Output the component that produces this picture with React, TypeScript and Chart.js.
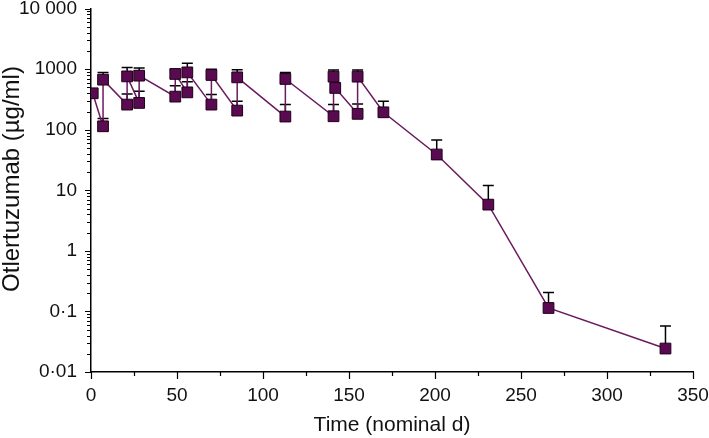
import React, { useEffect, useRef } from 'react';
import { Chart, registerables } from 'chart.js';

Chart.register(...registerables);

// ---- data ----
const days = [1, 7, 7, 21, 21, 28, 28, 49, 49, 56, 56, 70, 70, 85, 85, 113, 113, 141, 141, 142, 155, 155, 170, 201, 231, 266, 334];
const concentration = [400, 114, 671, 260, 760, 277, 781, 352, 834, 414, 885, 260, 802, 207, 733, 165, 689, 167, 752, 490, 183, 752, 194, 39, 5.8, 0.114, 0.0244];
const upperError: (number | null)[] = [null, 154, 885, 390, 1070, 430, 1045, 532, 960, 620, 1247, 380, 1000, 295, 980, 260, 885, 260, 970, null, 267, 970, 295, 68, 12, 0.205, 0.0576];

const yTickValues = [0.01, 0.1, 1, 10, 100, 1000, 10000];
const yTickLabels = ['0·01', '0·1', '1', '10', '100', '1000', '10 000'];
const yMinorMultipliers = [2, 3, 4, 5, 6, 7, 8, 9];
const xTickValues = [0, 50, 100, 150, 200, 250, 300, 350];
const xMinorTickValues = [25, 75, 125, 175, 225, 275, 325];

const xTitle = 'Time (nominal d)';
const yTitle = 'Otlertuzumab (µg/ml)';

const FONT = "'Liberation Sans', Arial, sans-serif";

const errorBarPlugin = {
  id: 'errorBars',
  beforeDatasetsDraw(chart: any) {
    const { ctx, scales } = chart;
    const x = scales.x;
    const y = scales.y;
    ctx.save();
    ctx.strokeStyle = '#000';
    ctx.lineWidth = 1.5;
    days.forEach((d, i) => {
      const up = upperError[i];
      if (up == null) return;
      const px = x.getPixelForValue(d);
      const py0 = y.getPixelForValue(concentration[i]);
      const py1 = y.getPixelForValue(up);
      ctx.beginPath();
      ctx.moveTo(px, py0);
      ctx.lineTo(px, py1);
      ctx.moveTo(px - 5.5, py1);
      ctx.lineTo(px + 5.5, py1);
      ctx.stroke();
    });
    ctx.restore();
  },
};

const axisDecorPlugin = {
  id: 'axisDecor',
  afterDraw(chart: any) {
    const { ctx, scales, chartArea } = chart;
    const x = scales.x;
    const y = scales.y;
    ctx.save();
    ctx.strokeStyle = '#000';
    ctx.lineWidth = 1.2;
    const left = chartArea.left;
    const bottom = chartArea.bottom;
    ctx.beginPath();
    yTickValues.forEach((v) => {
      const py = Math.round(y.getPixelForValue(v)) + 0.5;
      ctx.moveTo(left - 6, py);
      ctx.lineTo(left, py);
    });
    yTickValues.slice(0, -1).forEach((d) => {
      yMinorMultipliers.forEach((m) => {
        const py = Math.round(y.getPixelForValue(d * m)) + 0.5;
        ctx.moveTo(left - 4, py);
        ctx.lineTo(left, py);
      });
    });
    xTickValues.forEach((v) => {
      const px = Math.round(x.getPixelForValue(v)) + 0.5;
      ctx.moveTo(px, bottom);
      ctx.lineTo(px, bottom + 7);
    });
    xMinorTickValues.forEach((v) => {
      const px = Math.round(x.getPixelForValue(v)) + 0.5;
      ctx.moveTo(px, bottom);
      ctx.lineTo(px, bottom + 4);
    });
    ctx.stroke();

    // y-axis title
    ctx.fillStyle = '#111';
    ctx.font = `24px ${FONT}`;
    ctx.textAlign = 'center';
    ctx.textBaseline = 'alphabetic';
    ctx.translate(19, 179);
    ctx.rotate(-Math.PI / 2);
    ctx.fillText(yTitle, 0, 0);
    ctx.restore();
  },
};

export default function App() {
  const ref = useRef<HTMLCanvasElement | null>(null);

  useEffect(() => {
    if (!ref.current) return;
    const chart = new Chart(ref.current, {
      type: 'line',
      data: {
        datasets: [
          {
            data: days.map((d, i) => ({ x: d, y: concentration[i] })),
            borderColor: '#6a1a5f',
            borderWidth: 1.5,
            pointStyle: 'rect',
            pointRadius: 7.6,
            pointBackgroundColor: '#5a0a50',
            pointBorderColor: '#1e0019',
            pointBorderWidth: 1,
            tension: 0,
          },
        ],
      },
      options: {
        animation: false,
        responsive: false,
        devicePixelRatio: 1,
        layout: { padding: { top: 7.5, right: 16, left: 0, bottom: 0 } },
        plugins: {
          legend: { display: false },
          tooltip: { enabled: false },
        },
        scales: {
          x: {
            type: 'linear',
            min: 0,
            max: 350,
            afterBuildTicks: (scale: any) => {
              scale.ticks = xTickValues.map((v) => ({ value: v }));
            },
            afterFit: (scale: any) => {
              scale.height = 66;
            },
            grid: { display: true, drawOnChartArea: false, drawTicks: true, tickLength: 12, tickColor: 'rgba(0,0,0,0)' },
            border: { display: true, color: '#000', width: 1.5 },
            ticks: {
              color: '#111',
              font: { family: FONT, size: 19 },
              padding: 0,
              maxRotation: 0,
              autoSkip: false,
            },
            title: {
              display: true,
              text: xTitle,
              color: '#111',
              font: { family: FONT, size: 21 },
              padding: { top: 6, bottom: 0 },
            },
          },
          y: {
            type: 'logarithmic',
            min: 0.01,
            max: 10000,
            afterBuildTicks: (scale: any) => {
              scale.ticks = yTickValues.map((v) => ({ value: v, major: true }));
            },
            afterFit: (scale: any) => {
              scale.width = 91;
            },
            grid: { display: true, drawOnChartArea: false, drawTicks: true, tickLength: 14, tickColor: 'rgba(0,0,0,0)' },
            border: { display: true, color: '#000', width: 1.5 },
            ticks: {
              color: '#111',
              font: { family: FONT, size: 19, lineHeight: 0.78 },
              padding: 0,
              autoSkip: false,
              callback: (_v: any, i: number) => yTickLabels[i],
            },
            title: { display: false },
          },
        },
      },
      plugins: [errorBarPlugin, axisDecorPlugin],
    } as any);
    return () => chart.destroy();
  }, []);

  return (
    <div style={{ position: 'absolute', left: 0, top: 0, width: 709, height: 438, background: '#fff' }}>
      <canvas ref={ref} width={709} height={438} />
    </div>
  );
}
